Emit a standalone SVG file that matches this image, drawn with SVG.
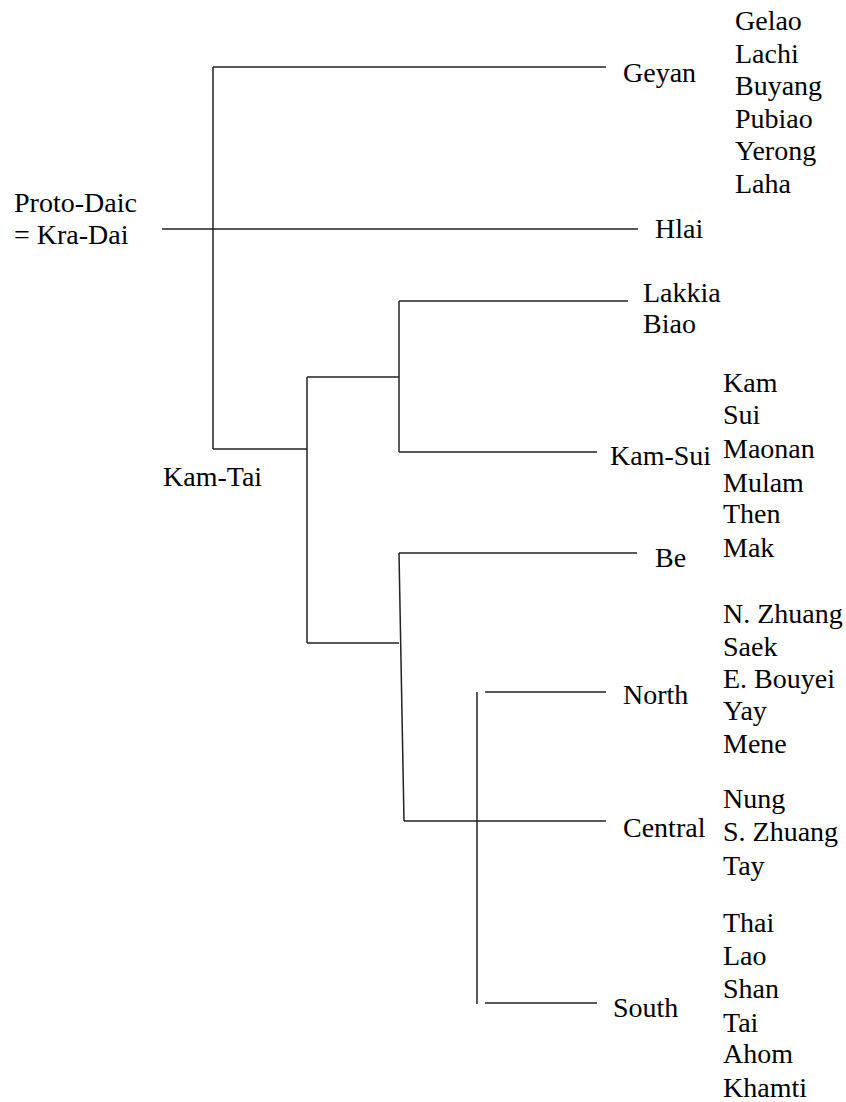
<svg xmlns="http://www.w3.org/2000/svg" width="846" height="1102" viewBox="0 0 846 1102">
<style>
.c line{stroke:#222;stroke-width:1.5;fill:none}
</style>
<rect width="846" height="1102" fill="#fff"/>
<g class="c" id="connectors">
<line x1="213" y1="67" x2="606" y2="67"/>
<line x1="213" y1="67" x2="213" y2="449"/>
<line x1="162" y1="229" x2="638" y2="229"/>
<line x1="213" y1="449" x2="307" y2="449"/>
<line x1="307" y1="377" x2="307" y2="643"/>
<line x1="307" y1="377" x2="399" y2="377"/>
<line x1="399" y1="301" x2="399" y2="452"/>
<line x1="399" y1="301" x2="628" y2="301"/>
<line x1="399" y1="452" x2="597" y2="452"/>
<line x1="307" y1="643" x2="399" y2="643"/>
<line x1="399" y1="553" x2="404" y2="821"/>
<line x1="399" y1="553" x2="637" y2="553"/>
<line x1="404" y1="821" x2="606" y2="821"/>
<line x1="477" y1="692" x2="477" y2="1004"/>
<line x1="485" y1="692" x2="606" y2="692"/>
<line x1="485" y1="1003" x2="597" y2="1003"/>
</g>
<g font-family="Liberation Serif, serif" font-size="28" fill="#000">
<g id="proto"><text x="14" y="212">Proto-Daic</text><text x="14" y="244">= Kra-Dai</text></g>
<g id="kamtai"><text x="163" y="486">Kam-Tai</text></g>
<g id="geyan"><text x="623" y="82">Geyan</text></g>
<g id="geyan-list">
<text x="735" y="30">Gelao</text><text x="735" y="63">Lachi</text><text x="735" y="95">Buyang</text><text x="735" y="128">Pubiao</text><text x="735" y="160">Yerong</text><text x="735" y="193">Laha</text>
</g>
<g id="hlai"><text x="655" y="238">Hlai</text></g>
<g id="lakkia"><text x="643" y="302">Lakkia</text><text x="643" y="333">Biao</text></g>
<g id="kamsui"><text x="610" y="465">Kam-Sui</text></g>
<g id="kamsui-list">
<text x="723" y="392">Kam</text><text x="723" y="424">Sui</text><text x="723" y="458">Maonan</text><text x="723" y="492">Mulam</text><text x="723" y="523">Then</text><text x="723" y="557">Mak</text>
</g>
<g id="be"><text x="655" y="567">Be</text></g>
<g id="north"><text x="623" y="704">North</text></g>
<g id="north-list">
<text x="723" y="623">N. Zhuang</text><text x="723" y="656">Saek</text><text x="723" y="688">E. Bouyei</text><text x="723" y="720">Yay</text><text x="723" y="753">Mene</text>
</g>
<g id="central"><text x="623" y="837">Central</text></g>
<g id="central-list">
<text x="723" y="808">Nung</text><text x="723" y="841">S. Zhuang</text><text x="723" y="875">Tay</text>
</g>
<g id="south"><text x="613" y="1017">South</text></g>
<g id="south-list">
<text x="723" y="932">Thai</text><text x="723" y="965">Lao</text><text x="723" y="998">Shan</text><text x="723" y="1032">Tai</text><text x="723" y="1063">Ahom</text><text x="723" y="1097">Khamti</text>
</g>
</g>
</svg>
